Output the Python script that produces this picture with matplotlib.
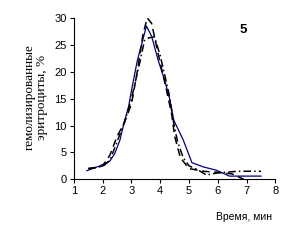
import matplotlib
matplotlib.use('Agg')
import matplotlib.pyplot as plt

# solid blue curve
x_blue = [1.45, 1.9, 2.25, 2.42, 2.6, 2.75, 2.9, 3.0, 3.2, 3.52, 3.7, 3.93, 4.15, 4.33, 4.47, 4.8, 5.1, 5.5, 5.95, 6.4, 7.5]
y_blue = [1.6, 2.5, 3.4, 4.8, 7.3, 10.7, 13.5, 16.5, 22.0, 28.5, 26.6, 22.1, 18.5, 14.9, 11.0, 7.3, 3.1, 2.3, 1.7, 0.6, 0.6]

# dashed curve (highest peak)
x_dash = [1.5, 1.8, 2.0, 2.25, 2.5, 2.75, 3.0, 3.2, 3.4, 3.55, 3.7, 3.9, 4.2, 4.4, 4.5, 4.7, 5.0, 5.5, 6.0, 6.5, 6.9]
y_dash = [2.0, 2.2, 2.5, 4.5, 8.0, 10.5, 14.0, 20.0, 27.0, 30.0, 29.0, 24.0, 17.0, 12.0, 8.0, 4.0, 2.0, 1.5, 1.3, 1.0, 0.0]

# dash-dot curve
x_dd = [1.5, 2.0, 2.25, 2.5, 2.75, 3.0, 3.3, 3.45, 3.6, 3.8, 4.0, 4.3, 4.45, 4.6, 4.8, 5.0, 5.3, 5.6, 6.0, 6.7, 7.5]
y_dd = [2.0, 2.4, 3.5, 7.0, 10.5, 15.0, 22.0, 25.8, 26.3, 26.5, 23.0, 16.0, 11.0, 7.0, 4.0, 2.5, 1.8, 0.8, 1.2, 1.5, 1.5]

fig = plt.figure(figsize=(2.81, 2.43), dpi=100)
ax = fig.add_axes([0.263, 0.262, 0.717, 0.664])

ax.plot(x_blue, y_blue, color='#000080', lw=0.9, ls='-')
ax.plot(x_dash, y_dash, color='black', lw=1.1, ls=(0, (5, 3)))
ax.plot(x_dd, y_dd, color='black', lw=1.1, ls=(0, (5, 2, 1, 2)))

ax.set_xlim(1, 8)
ax.set_ylim(0, 30)
ax.set_xticks(range(1, 9))
ax.set_yticks(range(0, 31, 5))
for s in ['top', 'right']:
    ax.spines[s].set_visible(False)
ax.spines['left'].set_linewidth(0.8)
ax.spines['bottom'].set_linewidth(0.8)
ax.tick_params(direction='out', length=3, width=0.8, labelsize=8, pad=2)
for lab in ax.get_xticklabels() + ax.get_yticklabels():
    lab.set_family('Liberation Sans')

fig.text(0.128, 0.60, 'гемолизированные\nэритроциты, %', rotation=90,
         ha='center', va='center', family='Liberation Serif', fontsize=9.5,
         linespacing=1.05)
fig.text(0.865, 0.875, '5', family='Liberation Sans', fontsize=9.5,
         fontweight='bold', ha='center', va='center')
fig.text(0.87, 0.108, 'Время, мин', family='Liberation Sans', fontsize=7.5,
         ha='center', va='center')

fig.savefig('out.png', dpi=100)
